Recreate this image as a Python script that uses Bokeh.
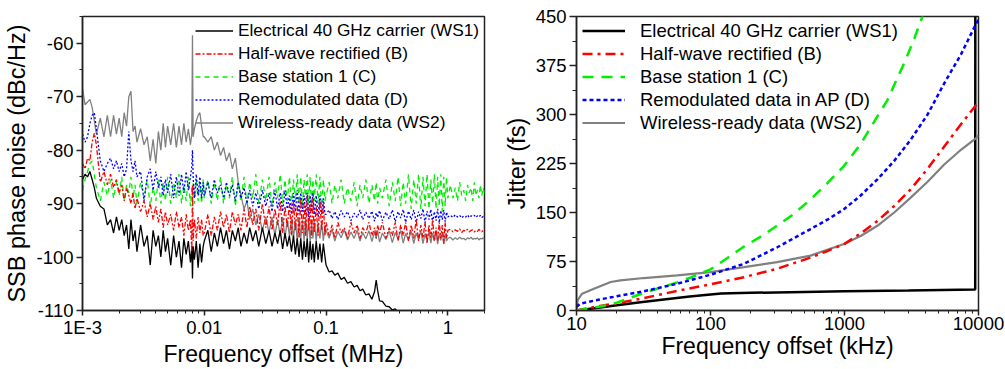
from bokeh.plotting import figure
from bokeh.layouts import row
from bokeh.models import FixedTicker, Legend, LegendItem, Range1d
from bokeh.embed import file_html
from bokeh.resources import INLINE

# ---------------- Left panel: SSB phase noise ----------------
FREQ_MHZ = [
    # 1e-3 .. 1e-2
    0.00100, 0.00105, 0.00110, 0.00115, 0.00120, 0.00125, 0.00130, 0.00140, 0.00150, 0.00160,
    0.00170, 0.00180, 0.00190, 0.00200, 0.00210, 0.00220, 0.00230, 0.00240, 0.00250, 0.00260,
    0.00270, 0.00280, 0.00300, 0.00320, 0.00340, 0.00360, 0.00380, 0.00400, 0.00420, 0.00440,
    0.00460, 0.00480, 0.00500, 0.00530, 0.00560, 0.00590, 0.00620, 0.00650, 0.00680, 0.00710,
    0.00740, 0.00770, 0.00790, 0.00800, 0.00810, 0.00830, 0.00860, 0.00890, 0.00920, 0.00950,
    0.00980,
    # 1e-2 .. 1e-1
    0.0100, 0.0107, 0.0114, 0.0121, 0.0128, 0.0136, 0.0144, 0.0152, 0.0161, 0.0170,
    0.0180, 0.0190, 0.0200, 0.0212, 0.0224, 0.0236, 0.0250, 0.0265, 0.0280, 0.0300,
    0.0320, 0.0340, 0.0360, 0.0380, 0.0400, 0.0420, 0.0440, 0.0460, 0.0480, 0.0500,
    0.0520, 0.0540, 0.0560, 0.0580, 0.0600, 0.0620, 0.0640, 0.0660, 0.0680, 0.0700,
    0.0720, 0.0740, 0.0760, 0.0780, 0.0800, 0.0830, 0.0860, 0.0890, 0.0920, 0.0950,
    0.0980,
    # 1e-1 .. 1
    0.100, 0.106, 0.112, 0.118, 0.125, 0.133, 0.141, 0.150, 0.160, 0.170,
    0.180, 0.190, 0.200, 0.212, 0.225, 0.238, 0.250, 0.258, 0.265, 0.275,
    0.290, 0.310, 0.330, 0.350, 0.370, 0.390, 0.410, 0.430, 0.450, 0.475,
    0.500, 0.525, 0.550, 0.575, 0.600, 0.625, 0.650, 0.675, 0.700, 0.725,
    0.750, 0.775, 0.800, 0.825, 0.850, 0.875, 0.900, 0.925, 0.950, 0.975,
    1.000,
    # 1 .. 2
    1.05, 1.10, 1.15, 1.20, 1.25, 1.30, 1.35, 1.40, 1.45, 1.50,
    1.55, 1.60, 1.65, 1.70, 1.75, 1.80, 1.85, 1.90, 1.95, 2.00,
]

PN_WS1 = [
    -85.5, -84.5, -85.0, -84.0, -85.5, -87.0, -89.0, -90.5, -91.0, -94.0,
    -93.0, -95.5, -92.5, -95.0, -93.0, -96.0, -94.0, -98.5, -93.0, -97.0,
    -95.0, -99.0, -94.0, -98.0, -96.0, -101.5, -95.0, -98.0, -96.0, -100.0,
    -95.0, -99.0, -96.5, -101.5, -96.0, -100.0, -97.0, -102.0, -96.5, -99.5,
    -97.0, -101.0, -98.0, -104.0, -98.0, -100.5, -97.0, -102.0, -97.5, -101.0,
    -98.0,
    -97.0, -95.0, -99.0, -95.5, -98.0, -94.5, -97.5, -95.0, -98.5, -95.0,
    -97.0, -94.5, -98.0, -95.5, -97.5, -94.5, -97.0, -95.0, -98.0, -94.5,
    -97.5, -95.0, -98.0, -95.5, -97.5, -95.0, -98.5, -95.5, -98.0, -96.0,
    -99.0, -96.0, -99.5, -96.5, -100.0, -96.5, -100.5, -97.0, -100.0, -96.5,
    -101.0, -97.0, -100.5, -97.5, -101.0, -97.0, -100.5, -97.5, -101.0, -97.5,
    -100.0,
    -101.5, -102.8, -102.6, -103.4, -103.0, -104.2, -103.8, -104.9, -104.6, -105.6,
    -105.3, -106.3, -106.0, -107.1, -106.9, -107.9, -106.5, -104.3, -106.2, -108.2,
    -108.3, -109.2, -109.3, -109.9, -109.7, -110.3, -110.4, -111.0, -111.5, -112.0,
    -112.5, -113.0, -113.3, -113.6, -114.0, -114.3, -114.6, -115.0, -115.2, -115.5,
    -115.8, -116.0, -116.2, -116.5, -116.7, -117.0, -117.2, -117.4, -117.6, -117.8,
    -118.0,
    -118.5, -118.7, -118.9, -119.1, -119.3, -119.5, -119.7, -119.9, -120.0, -120.2,
    -120.3, -120.4, -120.5, -120.6, -120.7, -120.8, -120.9, -121.0, -121.0, -121.1,
]

PN_B = [
    -82.5, -83.5, -81.5, -82.0, -78.5, -76.8, -79.0, -86.0, -84.0, -86.5,
    -84.5, -87.0, -85.5, -88.0, -86.5, -89.5, -87.0, -88.5, -90.0, -88.0,
    -91.0, -89.0, -91.5, -89.5, -92.5, -90.0, -93.0, -90.5, -93.5, -91.0,
    -94.5, -91.5, -94.0, -92.0, -95.0, -91.5, -94.5, -92.5, -96.0, -92.0,
    -95.0, -93.0, -99.0, -86.5, -97.0, -93.0, -96.5, -92.5, -95.5, -93.0,
    -96.0,
    -95.5, -92.0, -96.0, -92.5, -95.0, -91.5, -94.5, -92.0, -95.5, -91.5,
    -94.0, -92.0, -95.0, -91.0, -94.5, -90.5, -94.0, -91.0, -95.0, -90.0,
    -94.5, -90.5, -95.0, -91.0, -94.0, -89.5, -95.5, -90.5, -94.5, -90.0,
    -96.0, -89.5, -95.0, -90.5, -96.5, -89.0, -95.5, -90.0, -96.0, -88.5,
    -95.0, -90.0, -96.5, -89.0, -95.5, -90.5, -96.0, -89.5, -95.0, -90.0,
    -96.0,
    -93.5, -96.0, -94.0, -96.5, -93.5, -95.5, -94.5, -96.5, -93.5, -95.5,
    -94.0, -96.5, -94.5, -95.5, -93.5, -96.0, -94.5, -96.5, -94.0, -95.5,
    -93.5, -96.5, -94.5, -96.0, -93.5, -97.0, -94.0, -96.0, -93.5, -97.0,
    -94.0, -96.5, -93.0, -97.0, -94.0, -96.5, -93.5, -97.5, -94.0, -96.5,
    -93.0, -97.0, -94.5, -97.0, -93.5, -96.5, -94.0, -97.5, -93.5, -96.5,
    -95.0,
    -94.8, -95.3, -94.9, -95.2, -94.7, -95.4, -95.0, -95.2, -94.8, -95.3,
    -95.0, -94.9, -95.3, -95.0, -95.2, -94.8, -95.1, -95.3, -95.0, -95.1,
]

PN_C = [
    -87.5, -85.5, -84.0, -82.5, -82.0, -84.5, -87.0, -89.5, -86.0, -88.5,
    -85.5, -89.0, -86.0, -88.5, -85.0, -89.5, -86.5, -88.0, -85.0, -89.0,
    -86.5, -90.0, -86.0, -89.0, -85.5, -90.5, -87.0, -89.5, -85.5, -90.0,
    -86.0, -89.5, -85.0, -90.0, -86.0, -89.0, -84.5, -90.0, -86.5, -89.5,
    -85.0, -90.5, -87.0, -88.5, -86.0, -90.0, -85.5, -89.5, -86.0, -90.0,
    -85.5,
    -89.0, -85.5, -90.0, -86.0, -89.5, -85.0, -90.0, -86.5, -89.0, -85.0,
    -90.5, -86.0, -89.5, -85.0, -90.0, -86.0, -89.0, -84.5, -90.0, -85.5,
    -89.5, -85.0, -90.5, -86.0, -89.0, -84.5, -90.0, -85.5, -89.5, -85.0,
    -90.5, -85.5, -89.5, -84.5, -90.0, -85.0, -90.5, -85.5, -89.5, -84.5,
    -90.0, -85.0, -90.5, -85.5, -89.5, -84.5, -90.0, -85.0, -90.5, -85.5,
    -89.5,
    -88.5, -86.0, -90.0, -86.5, -89.0, -85.5, -90.0, -87.0, -89.5, -86.0,
    -90.5, -86.5, -89.0, -85.5, -90.0, -86.5, -89.5, -86.0, -90.0, -87.0,
    -89.0, -85.5, -90.5, -86.0, -89.5, -85.0, -90.5, -86.0, -90.0, -84.5,
    -91.0, -85.5, -90.0, -84.5, -91.0, -85.0, -90.5, -84.5, -91.0, -85.5,
    -90.0, -84.5, -91.0, -85.0, -90.5, -84.5, -91.5, -85.0, -90.5, -85.0,
    -89.0,
    -86.5, -89.0, -87.0, -89.5, -86.0, -88.5, -87.5, -89.5, -86.5, -88.0,
    -87.0, -89.5, -86.0, -88.5, -87.5, -89.0, -86.5, -88.5, -87.0, -88.0,
]

PN_D = [
    -77.0, -78.5, -77.5, -75.0, -73.5, -73.0, -76.0, -82.0, -84.0, -82.5,
    -81.5, -83.5, -82.0, -84.0, -82.5, -85.0, -83.5, -76.5, -82.0, -84.0,
    -82.0, -85.0, -84.0, -89.5, -85.0, -83.5, -87.5, -84.0, -87.0, -85.0,
    -88.5, -85.5, -88.0, -84.5, -89.0, -85.0, -88.5, -84.5, -88.0, -84.0,
    -87.5, -85.0, -83.0, -80.0, -85.0, -89.0, -84.5, -88.5, -85.0, -89.0,
    -86.0,
    -88.5, -86.0, -89.0, -85.5, -88.0, -86.5, -89.0, -86.0, -88.5, -86.5,
    -89.5, -86.0, -89.0, -87.0, -90.0, -87.5, -90.5, -88.0, -91.0, -87.5,
    -90.5, -88.0, -91.5, -87.5, -91.0, -88.0, -91.5, -87.5, -91.0, -88.5,
    -92.0, -88.0, -91.5, -87.5, -92.0, -88.0, -91.5, -88.5, -92.0, -88.0,
    -92.5, -88.5, -91.5, -88.0, -92.0, -88.5, -92.5, -88.5, -92.0, -89.0,
    -92.0,
    -92.0, -91.2, -92.8, -91.5, -93.0, -91.3, -92.5, -91.5, -93.2, -91.8,
    -92.6, -91.2, -93.0, -91.6, -92.8, -91.4, -93.3, -91.7, -92.6, -91.3,
    -93.2, -91.6, -92.9, -91.2, -93.4, -91.5, -92.7, -91.1, -93.5, -91.4,
    -93.0, -91.2, -93.5, -91.5, -92.8, -91.0, -93.6, -91.4, -93.0, -91.1,
    -93.5, -91.5, -93.2, -91.0, -93.6, -91.3, -93.0, -91.2, -93.4, -91.6,
    -92.5,
    -92.2, -92.6, -92.1, -92.5, -92.2, -92.7, -92.3, -92.5, -92.1, -92.6,
    -92.3, -92.4, -92.2, -92.6, -92.3, -92.5, -92.2, -92.6, -92.4, -92.5,
]

PN_WS2 = [
    -68.5, -71.5, -71.0, -70.5, -72.0, -74.5, -77.0, -74.0, -77.5, -73.5,
    -77.5, -73.5, -77.0, -74.0, -77.5, -73.0, -75.5, -70.0, -69.0, -76.5,
    -75.5, -78.5, -76.0, -79.0, -77.5, -82.0, -78.0, -82.5, -76.5, -80.0,
    -75.0, -79.5, -75.5, -79.0, -75.0, -79.5, -75.5, -79.0, -75.0, -78.5,
    -76.0, -79.0, -77.0, -58.5, -77.5, -76.0, -74.5, -73.5, -73.0, -75.5,
    -77.5,
    -77.5, -78.5, -77.5, -80.0, -78.5, -81.0, -79.5, -82.0, -80.5, -83.5,
    -81.5, -86.0, -88.5, -91.0, -89.5, -93.0, -91.0, -94.0, -92.0, -95.0,
    -92.5, -95.5, -92.5, -96.0, -93.0, -96.0, -92.5, -96.5, -93.0, -96.0,
    -92.5, -96.5, -93.0, -97.0, -92.5, -96.5, -93.0, -97.0, -92.5, -96.5,
    -93.0, -97.0, -93.5, -96.5, -93.0, -97.0, -93.5, -96.5, -93.5, -97.0,
    -94.0,
    -95.0, -96.5, -94.8, -97.0, -95.2, -96.4, -94.9, -96.8, -95.3, -96.5,
    -95.0, -97.0, -95.4, -96.6, -95.1, -97.1, -95.3, -96.5, -95.0, -97.2,
    -95.5, -96.7, -95.1, -97.3, -95.4, -96.6, -95.0, -97.4, -95.6, -96.8,
    -95.2, -97.5, -95.5, -96.7, -95.1, -97.5, -95.6, -96.9, -95.3, -97.4,
    -95.5, -97.0, -95.2, -97.6, -95.6, -96.9, -95.3, -97.5, -95.7, -97.0,
    -96.5,
    -96.3, -96.8, -96.4, -96.7, -96.3, -96.6, -96.5, -96.8, -96.4, -96.6,
    -96.3, -96.7, -96.5, -96.6, -96.4, -96.8, -96.5, -96.6, -96.4, -96.7,
]

PN_YTICKS = [-110, -100, -90, -80, -70, -60]
PN_XTICKS = [0.001, 0.01, 0.1, 1]
PN_XLABELS = ["1E-3", "0.01", "0.1", "1"]

# ---------------- Right panel: integrated jitter ----------------
J_WS1_F = [10, 15, 20, 30, 50, 70, 100, 120, 200, 500, 1000, 3000, 9450, 9470]
J_WS1 = [0, 4.5, 8, 12.5, 18, 21.5, 24.5, 26, 27, 28.5, 29.5, 30.5, 32, 480]

J_B_F = [10, 15, 20, 31.8, 56.5, 100, 178, 315, 558, 745, 1000, 1320, 1760, 2350, 3120, 4170,
         5550, 7400, 9600, 10000]
J_B = [0, 7, 11, 19, 30, 40, 51, 64, 81, 91, 102, 118, 137, 160, 185.5, 217,
       251, 285, 314.7, 320]

J_C_F = [10, 15, 20, 31.8, 56.5, 70, 100, 133, 178, 237, 315, 420, 558, 745, 990, 1320,
         1760, 2090, 2780, 3300, 3800, 4000]
J_C = [0, 6, 12, 27, 43, 50, 63, 80, 98, 113, 130, 148, 170, 195, 221, 255,
       297, 322, 378, 415, 449, 465]

J_D_F = [10, 10.7, 15, 20, 31.8, 56.5, 100, 178, 315, 558, 745, 990, 1320, 1760, 2350, 3120,
         4170, 5550, 7400, 9600, 10000]
J_D = [5.6, 10.6, 17, 21.8, 29.4, 41, 54.7, 71.5, 96.8, 124.7, 139, 155, 176, 200.7, 229, 261.5,
       300, 347.7, 392, 439, 445]

J_WS2_F = [10, 10.2, 11, 13.5, 18, 21.3, 31.8, 56.5, 100, 178, 315, 558, 990, 1320, 1760, 2350,
           3120, 4170, 5550, 7400, 9600, 10000]
J_WS2 = [0, 15.7, 25.8, 33.4, 43.6, 46, 49.7, 53.7, 58.8, 66.4, 74, 84, 101.9, 114, 129.7, 150,
         172.8, 197, 223.5, 246, 264, 268]

J_YTICKS = [0, 75, 150, 225, 300, 375, 450]
J_XTICKS = [10, 100, 1000, 10000]

LABELS_L = ["Electrical 40 GHz carrier (WS1)", "Half-wave rectified (B)", "Base station 1 (C)",
            "Remodulated data (D)", "Wireless-ready data (WS2)"]
LABELS_R = ["Electrical 40 GHz carrier (WS1)", "Half-wave rectified (B)", "Base station 1 (C)",
            "Remodulated data in AP (D)", "Wireless-ready data (WS2)"]

FONT = "Liberation Sans"
BLACK, RED, GREEN, BLUE, GRAY = "#000000", "#FF0000", "#00EE00", "#0000FF", "#808080"


def style(p, xlabel, ylabel):
    p.xgrid.visible = False
    p.ygrid.visible = False
    p.outline_line_color = "#222222"
    p.outline_line_width = 1.5
    for ax in (p.xaxis[0], p.yaxis[0]):
        ax.axis_label_text_font = FONT
        ax.axis_label_text_font_style = "normal"
        ax.axis_label_text_color = "black"
        ax.major_label_text_font = FONT
        ax.major_label_text_font_size = "18.5px"
        ax.major_label_text_color = "black"
        ax.axis_line_color = "#222222"
        ax.axis_line_width = 1.5
        ax.major_tick_line_color = "#222222"
        ax.minor_tick_line_color = "#222222"
        ax.major_tick_line_width = 1.5
        ax.minor_tick_line_width = 1
        ax.major_tick_in = 0
        ax.minor_tick_in = 0
    p.xaxis[0].axis_label = xlabel
    p.xaxis[0].axis_label_text_font_size = "23px"
    p.xaxis[0].major_tick_out = 5
    p.xaxis[0].minor_tick_out = 3
    p.xaxis[0].major_label_standoff = 1
    p.xaxis[0].axis_label_standoff = 0
    p.yaxis[0].axis_label = ylabel
    p.yaxis[0].axis_label_text_font_size = "23.5px"
    p.yaxis[0].major_tick_out = 6
    p.yaxis[0].minor_tick_out = 3
    p.yaxis[0].major_label_standoff = 3
    p.yaxis[0].axis_label_standoff = 3


def make_legend(items, loc, gw, standoff, fs):
    lg = Legend(items=items, location=loc)
    lg.label_text_font = FONT
    lg.label_text_font_size = fs
    lg.label_text_color = "black"
    lg.glyph_width = gw
    lg.glyph_height = 23
    lg.label_height = 23
    lg.label_standoff = standoff
    lg.spacing = 0
    lg.padding = 0
    lg.margin = 0
    lg.border_line_color = None
    lg.background_fill_alpha = 0
    return lg


# ---- left figure (canvas x 0..500)
p1 = figure(width=500, height=369, x_axis_type="log", output_backend="svg", toolbar_location=None,
            x_range=Range1d(0.001, 2), y_range=Range1d(-110, -55),
            min_border_left=82, min_border_right=16, min_border_top=16, min_border_bottom=57)
style(p1, "Frequency offset (MHz)", "SSB phase noise (dBc/Hz)")
p1.xaxis[0].ticker = FixedTicker(ticks=PN_XTICKS,
                                 minor_ticks=[k * d for d in (0.001, 0.01, 0.1) for k in range(2, 10)] + [2])
p1.xaxis[0].major_label_overrides = {t: s for t, s in zip(PN_XTICKS, PN_XLABELS)}
p1.yaxis[0].ticker = FixedTicker(ticks=PN_YTICKS, minor_ticks=[t + 5 for t in PN_YTICKS])
p1.yaxis[0].major_label_overrides = {t: str(t) for t in PN_YTICKS}

lw = 1.3
r_ws2 = p1.line(FREQ_MHZ, PN_WS2, line_color=GRAY, line_width=lw)
r_ws1 = p1.line(FREQ_MHZ, PN_WS1, line_color=BLACK, line_width=lw)
r_c = p1.line(FREQ_MHZ, PN_C, line_color=GREEN, line_width=lw, line_dash="5 4")
r_d = p1.line(FREQ_MHZ, PN_D, line_color=BLUE, line_width=lw, line_dash="2 2")
r_b = p1.line(FREQ_MHZ, PN_B, line_color=RED, line_width=lw, line_dash="5 2 2 2")

items1 = [LegendItem(label=l, renderers=[r]) for l, r in zip(LABELS_L, [r_ws1, r_b, r_c, r_d, r_ws2])]
p1.add_layout(make_legend(items1, (113, 176), 38, 5, "17.3px"))

# ---- right figure (canvas x 500..1004)
p2 = figure(width=504, height=369, x_axis_type="log", output_backend="svg", toolbar_location=None,
            x_range=Range1d(10, 10000), y_range=Range1d(0, 450),
            min_border_left=76, min_border_right=26, min_border_top=16, min_border_bottom=57)
style(p2, "Frequency offset (kHz)", "Jitter (fs)")
p2.xaxis[0].ticker = FixedTicker(ticks=J_XTICKS,
                                 minor_ticks=[k * d for d in (10, 100, 1000) for k in range(2, 10)])
p2.xaxis[0].major_label_overrides = {t: str(t) for t in J_XTICKS}
p2.yaxis[0].ticker = FixedTicker(ticks=J_YTICKS, minor_ticks=[t + 37.5 for t in J_YTICKS[:-1]])
p2.yaxis[0].major_label_overrides = {t: str(t) for t in J_YTICKS}
p2.yaxis[0].major_tick_out = 7
p2.yaxis[0].minor_tick_out = 4

q_ws1 = p2.line(J_WS1_F, J_WS1, line_color=BLACK, line_width=2.5)
q_ws2 = p2.line(J_WS2_F, J_WS2, line_color=GRAY, line_width=2.2)
q_b = p2.line(J_B_F, J_B, line_color=RED, line_width=2.5, line_dash="10 5 3 5")
q_c = p2.line(J_C_F, J_C, line_color=GREEN, line_width=2.5, line_dash="11 8")
q_d = p2.line(J_D_F, J_D, line_color=BLUE, line_width=2.5, line_dash="4 3")

items2 = [LegendItem(label=l, renderers=[r]) for l, r in zip(LABELS_R, [q_ws1, q_b, q_c, q_d, q_ws2])]
p2.add_layout(make_legend(items2, (6, 176), 43, 15, "18.5px"))

layout = row(p1, p2)
open("out.html", "w").write(file_html(layout, INLINE))
